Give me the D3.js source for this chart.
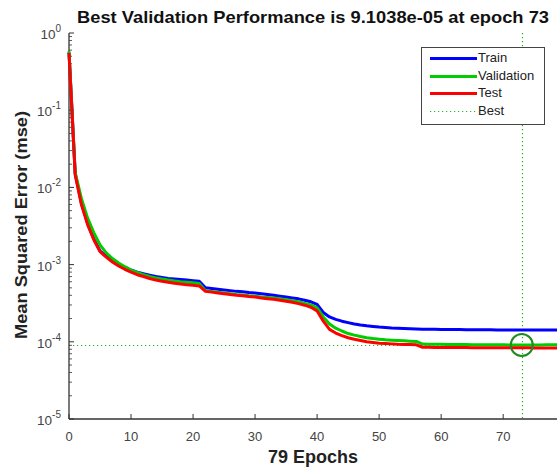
<!DOCTYPE html>
<html><head><meta charset="utf-8">
<script src="https://cdn.jsdelivr.net/npm/d3@7"></script>
<style>body{margin:0;background:#fff;} svg{display:block;font-family:"Liberation Sans",Arial,sans-serif;}</style>
</head><body>
<svg id="c" width="557" height="468"></svg>
<script>
const epochs = d3.range(0, 80);
const train = [0.56,0.0150,6.2e-3,3.4e-3,2.15e-3,1.5e-3,1.28e-3,1.12e-3,1.0e-3,9.2e-4,
  8.5e-4,8.0e-4,7.6e-4,7.3e-4,7.0e-4,6.8e-4,6.6e-4,6.5e-4,6.4e-4,6.3e-4,
  6.2e-4,6.1e-4,5.0e-4,4.9e-4,4.8e-4,4.7e-4,4.6e-4,4.5e-4,4.45e-4,4.35e-4,
  4.3e-4,4.2e-4,4.1e-4,4.0e-4,3.9e-4,3.8e-4,3.7e-4,3.6e-4,3.45e-4,3.3e-4,
  3.05e-4,2.4e-4,2.1e-4,1.95e-4,1.85e-4,1.77e-4,1.7e-4,1.65e-4,1.61e-4,1.58e-4,
  1.55e-4,1.53e-4,1.51e-4,1.5e-4,1.49e-4,1.48e-4,1.47e-4,1.45e-4,1.45e-4,1.45e-4,
  1.44e-4,1.44e-4,1.44e-4,1.44e-4,1.43e-4,1.43e-4,1.43e-4,1.43e-4,1.43e-4,1.42e-4,
  1.42e-4,1.42e-4,1.42e-4,1.42e-4,1.42e-4,1.42e-4,1.42e-4,1.42e-4,1.42e-4,1.42e-4];
const validation = [0.58,0.0155,7.2e-3,4.0e-3,2.6e-3,1.8e-3,1.42e-3,1.2e-3,1.05e-3,9.4e-4,
  8.5e-4,7.9e-4,7.4e-4,7.0e-4,6.7e-4,6.5e-4,6.3e-4,6.15e-4,6.0e-4,5.9e-4,
  5.8e-4,5.7e-4,4.6e-4,4.5e-4,4.4e-4,4.3e-4,4.2e-4,4.1e-4,4.05e-4,3.95e-4,
  3.9e-4,3.8e-4,3.75e-4,3.68e-4,3.6e-4,3.5e-4,3.4e-4,3.3e-4,3.15e-4,3.0e-4,
  2.75e-4,2.1e-4,1.7e-4,1.5e-4,1.38e-4,1.28e-4,1.22e-4,1.17e-4,1.13e-4,1.10e-4,
  1.08e-4,1.06e-4,1.05e-4,1.04e-4,1.03e-4,1.02e-4,1.01e-4,9.35e-5,9.32e-5,9.3e-5,
  9.28e-5,9.26e-5,9.24e-5,9.22e-5,9.2e-5,9.19e-5,9.18e-5,9.17e-5,9.15e-5,9.14e-5,
  9.13e-5,9.12e-5,9.11e-5,9.1038e-5,9.11e-5,9.12e-5,9.12e-5,9.13e-5,9.13e-5,9.14e-5];
const test = [0.55,0.0145,6.0e-3,3.3e-3,2.1e-3,1.47e-3,1.25e-3,1.08e-3,9.6e-4,8.7e-4,
  8.0e-4,7.4e-4,7.0e-4,6.6e-4,6.3e-4,6.1e-4,5.9e-4,5.75e-4,5.6e-4,5.5e-4,
  5.4e-4,5.3e-4,4.5e-4,4.4e-4,4.3e-4,4.2e-4,4.1e-4,4.0e-4,3.95e-4,3.85e-4,
  3.8e-4,3.7e-4,3.62e-4,3.55e-4,3.45e-4,3.35e-4,3.25e-4,3.12e-4,2.98e-4,2.8e-4,
  2.5e-4,1.85e-4,1.45e-4,1.3e-4,1.2e-4,1.13e-4,1.08e-4,1.04e-4,1.0e-4,9.8e-5,
  9.6e-5,9.5e-5,9.4e-5,9.3e-5,9.25e-5,9.2e-5,9.15e-5,8.5e-5,8.48e-5,8.46e-5,
  8.45e-5,8.44e-5,8.43e-5,8.42e-5,8.41e-5,8.4e-5,8.4e-5,8.39e-5,8.38e-5,8.38e-5,
  8.37e-5,8.36e-5,8.36e-5,8.35e-5,8.35e-5,8.34e-5,8.34e-5,8.33e-5,8.33e-5,8.32e-5];
const xTicks = [0,10,20,30,40,50,60,70];
const yExponents = [0,-1,-2,-3,-4,-5];
const bestEpoch = 73;
const bestValue = 9.1038e-05;
const titleText = "Best Validation Performance is 9.1038e-05 at epoch 73";
const xLabelText = "79 Epochs";
const yLabelText = "Mean Squared Error  (mse)";
const legendLabels = ["Train","Validation","Test","Best"];

const svg = d3.select("#c");
const L = 69, R = 559, T = 33, B = 419;
const x = d3.scaleLinear().domain([0,79]).range([L,R]);
const y = d3.scaleLog().domain([1e-5,1]).range([B,T]);

// best lines (behind curves)
const bestColor = "#1fb81f";
const by = Math.round(y(bestValue)) + 0.5, bx = Math.round(x(bestEpoch)) + 0.5;
svg.append("line").attr("x1",L).attr("x2",R).attr("y1",by).attr("y2",by)
  .attr("stroke",bestColor).attr("stroke-width",1.2).attr("stroke-dasharray","1.2,2.8");
svg.append("line").attr("x1",bx).attr("x2",bx).attr("y1",T).attr("y2",B)
  .attr("stroke",bestColor).attr("stroke-width",1.2).attr("stroke-dasharray","1.2,2.8");

// axes
const g = svg.append("g");
g.append("line").attr("x1",L).attr("x2",L).attr("y1",T).attr("y2",B).attr("stroke","#333").attr("stroke-width",1.3);
g.append("line").attr("x1",L).attr("x2",R).attr("y1",B).attr("y2",B).attr("stroke","#333").attr("stroke-width",1.3);
yExponents.forEach(e=>{
  const v = Math.pow(10,e);
  g.append("line").attr("x1",L).attr("x2",L+5).attr("y1",y(v)).attr("y2",y(v)).attr("stroke","#333");
  if(e>-5){ for(let k=2;k<10;k++){ const mv=k*Math.pow(10,e-1);
    g.append("line").attr("x1",L).attr("x2",L+3).attr("y1",y(mv)).attr("y2",y(mv)).attr("stroke","#333").attr("stroke-width",0.8);} }
  const t = g.append("text").attr("x",L-8).attr("y",y(v)+6).attr("text-anchor","end").attr("font-size",13.5).attr("fill","#444");
  t.append("tspan").text("10");
  t.append("tspan").attr("dy",-7).attr("font-size",10).text(String(e));
});
xTicks.forEach(v=>{
  g.append("line").attr("x1",x(v)).attr("x2",x(v)).attr("y1",B).attr("y2",B-5).attr("stroke","#333");
  g.append("text").attr("x",x(v)).attr("y",B+22).attr("text-anchor","middle").attr("font-size",13).attr("fill","#444").text(v);
});

// series
const line = d3.line().x((d,i)=>x(epochs[i])).y(d=>y(d));
[[train,"#0000ff"],[validation,"#00cc00"],[test,"#ff0000"]].forEach(([s,c])=>{
  svg.append("path").attr("d",line(s)).attr("fill","none").attr("stroke",c).attr("stroke-width",3).attr("stroke-linejoin","round");
});
svg.append("circle").attr("cx",x(bestEpoch)).attr("cy",y(bestValue)).attr("r",11)
  .attr("fill","none").attr("stroke","#1f8a1f").attr("stroke-width",2);

// title and labels
svg.append("text").attr("x",313).attr("y",23).attr("text-anchor","middle").attr("font-size",17).attr("font-weight","bold").attr("fill","#111")
  .attr("textLength",472).attr("lengthAdjust","spacingAndGlyphs").text(titleText);
svg.append("text").attr("x",313).attr("y",463).attr("text-anchor","middle").attr("font-size",17.5).attr("font-weight","bold").attr("fill","#222")
  .attr("textLength",90).attr("lengthAdjust","spacingAndGlyphs").text(xLabelText);
svg.append("text").attr("transform",`translate(27,225) rotate(-90)`).attr("text-anchor","middle").attr("font-size",16.5).attr("font-weight","bold").attr("fill","#222")
  .attr("textLength",228).attr("lengthAdjust","spacingAndGlyphs").text(yLabelText);

// legend
const lg = svg.append("g");
lg.append("rect").attr("x",421.5).attr("y",47.5).attr("width",123).attr("height",77).attr("fill","#fff").attr("stroke","#444").attr("stroke-width",1);
const legColors = ["#0000ff","#00cc00","#ff0000",bestColor];
legendLabels.forEach((lab,i)=>{
  const yy = 57 + i*17.7;
  const ln = lg.append("line").attr("x1",430).attr("x2",477).attr("y1",Math.round(yy)+1.5).attr("y2",Math.round(yy)+1.5).attr("stroke",legColors[i]);
  if(i<3) ln.attr("stroke-width",3); else ln.attr("stroke-width",1.2).attr("stroke-dasharray","1.2,2.8");
  lg.append("text").attr("x",478).attr("y",yy+5).attr("font-size",13).attr("fill","#222").text(lab);
});
</script>
</body></html>
